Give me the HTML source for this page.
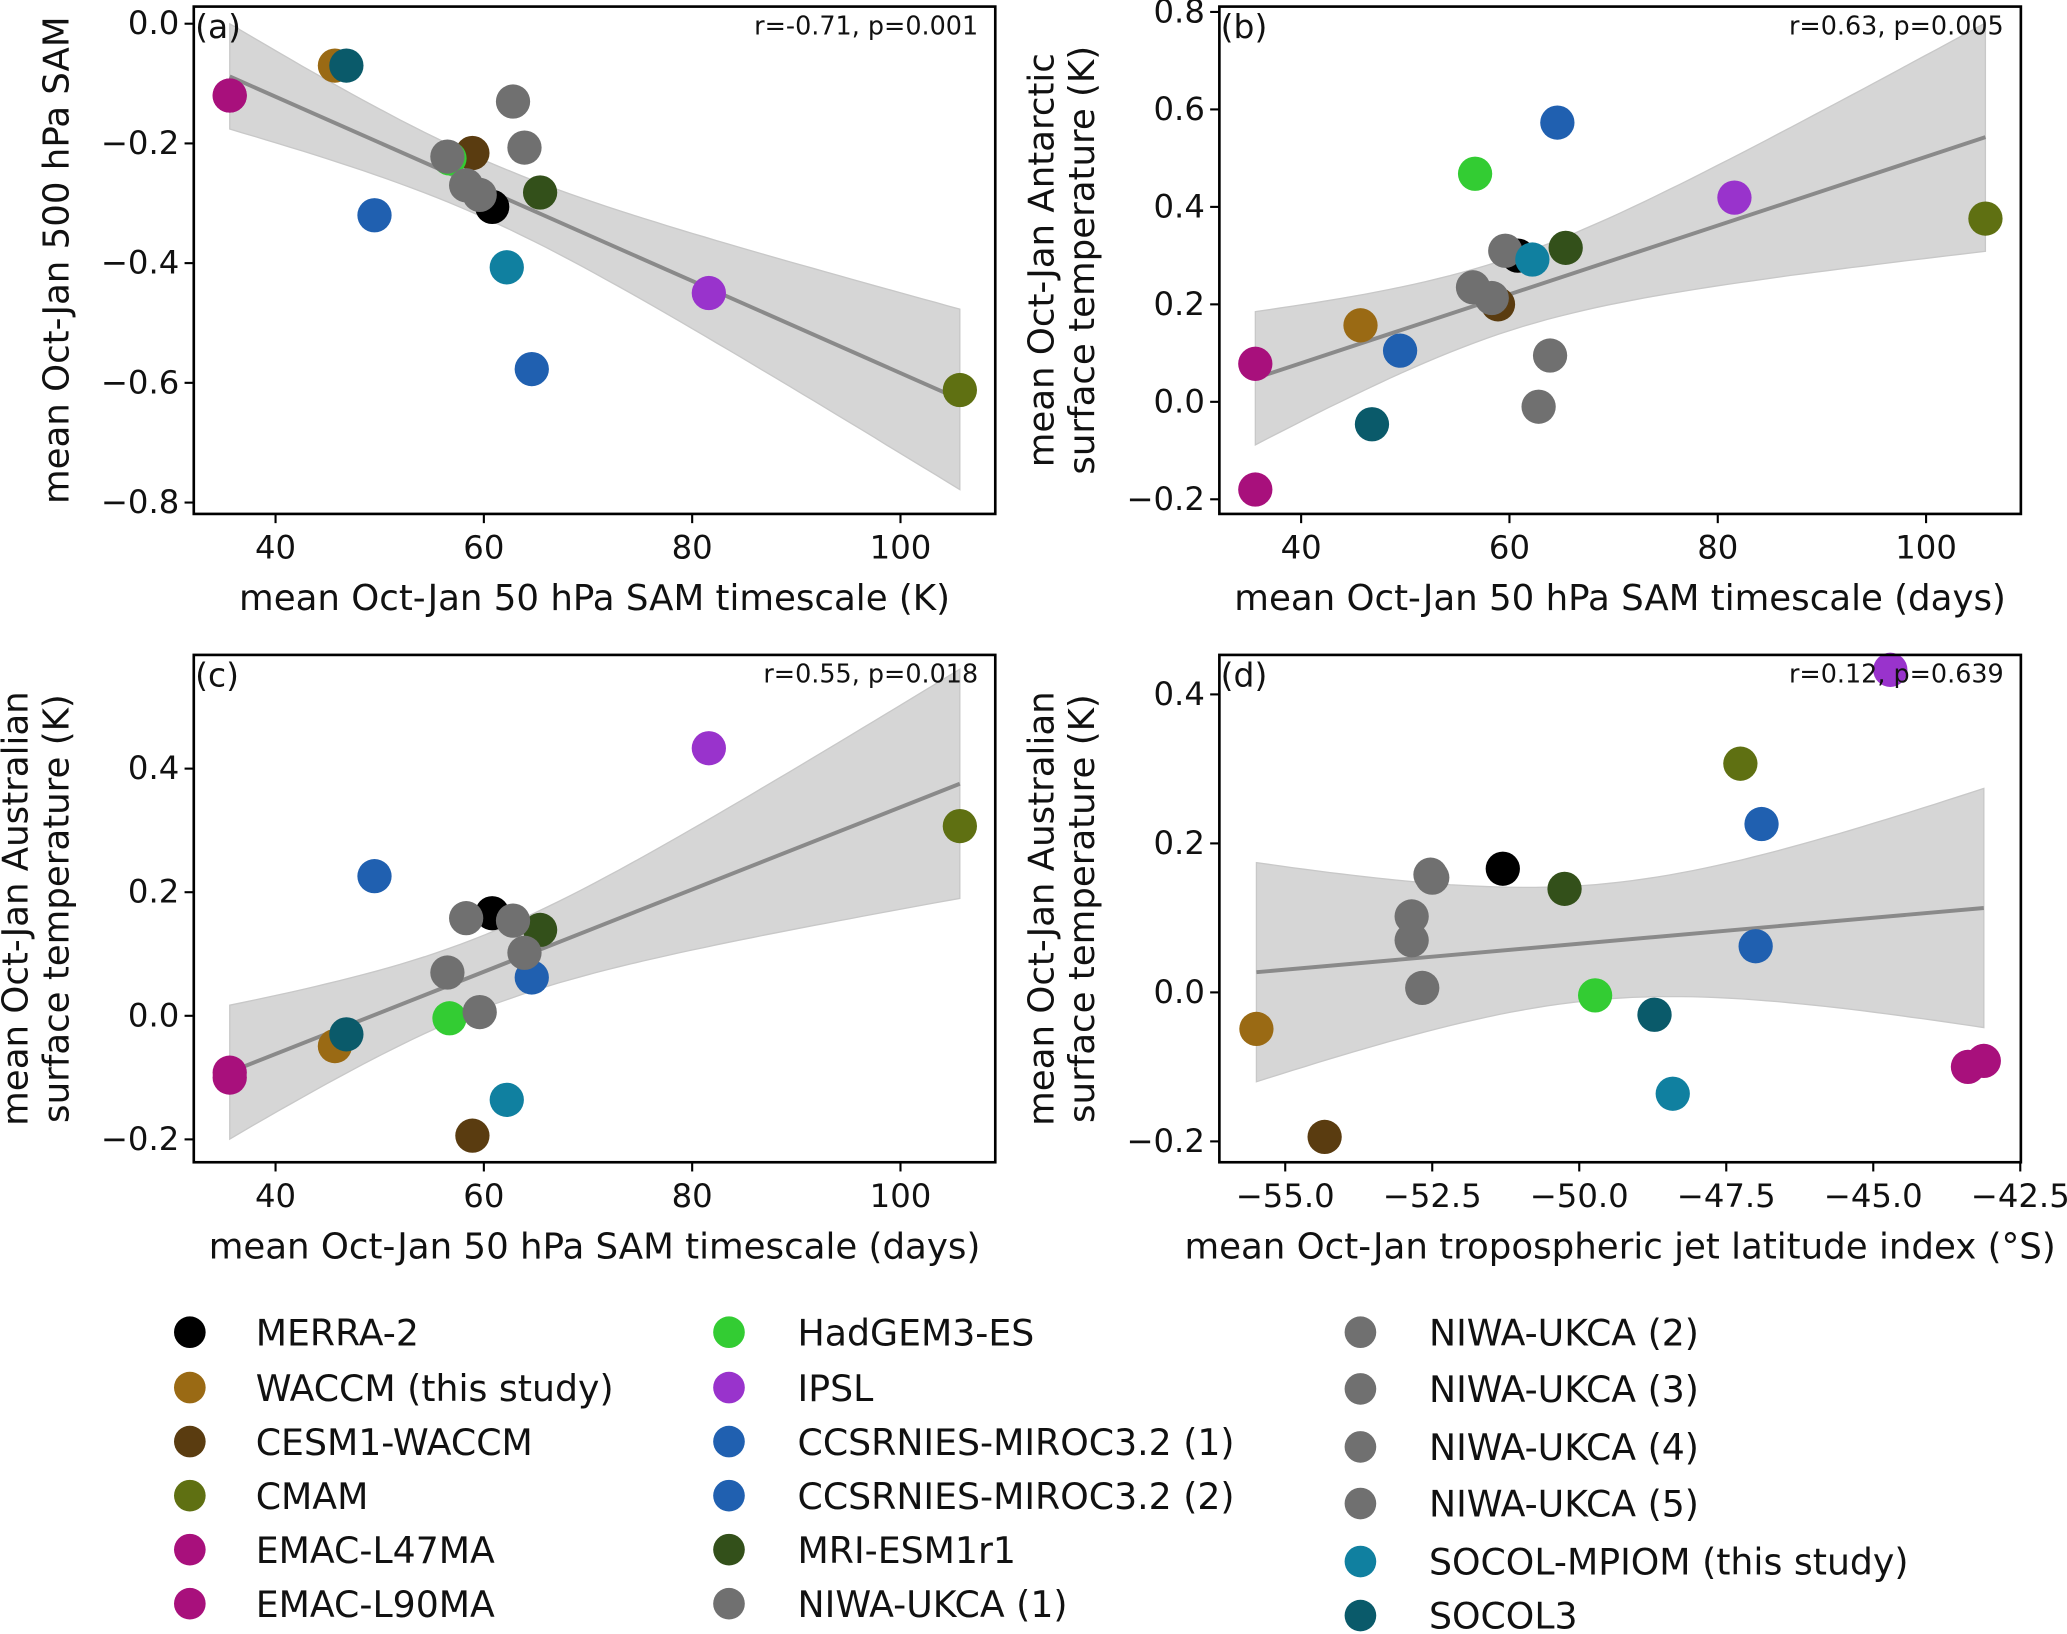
<!DOCTYPE html>
<html><head><meta charset="utf-8"><style>
html,body{margin:0;padding:0;background:#fff;}
svg{display:block;font-family:"DejaVu Sans","Liberation Sans",sans-serif;}
</style></head><body>
<svg id="fig" width="2067" height="1634" viewBox="0 0 1568 1240" preserveAspectRatio="none" xmlns="http://www.w3.org/2000/svg"></svg>
<script>
const models = ["MERRA-2","WACCM (this study)","CESM1-WACCM","CMAM","EMAC-L47MA","EMAC-L90MA","HadGEM3-ES","IPSL","CCSRNIES-MIROC3.2 (1)","CCSRNIES-MIROC3.2 (2)","MRI-ESM1r1","NIWA-UKCA (1)","NIWA-UKCA (2)","NIWA-UKCA (3)","NIWA-UKCA (4)","NIWA-UKCA (5)","SOCOL-MPIOM (this study)","SOCOL3"];
const colors = ["#000000","#9a6a14","#5a3c10","#5f7012","#a8107c","#a8107c","#33cc33","#9933cc","#2060b0","#2060b0","#33501a","#707070","#707070","#707070","#707070","#707070","#1080a0","#0a5a6a"];
const samTimescale = [60.8,45.7,58.9,105.7,35.6,35.6,56.7,81.6,49.5,64.6,65.4,56.5,58.3,59.6,62.8,63.9,62.2,46.8];
const sam500 = [-0.306,-0.07,-0.216,-0.612,-0.12,-0.12,-0.225,-0.45,-0.32,-0.577,-0.282,-0.222,-0.27,-0.286,-0.13,-0.207,-0.407,-0.07];
const antarcticT = [0.30,0.157,0.2,0.376,0.078,-0.18,0.468,0.419,0.105,0.573,0.316,0.235,0.213,0.31,-0.01,0.095,0.292,-0.046];
const australianT = [0.166,-0.049,-0.194,0.307,-0.092,-0.10,-0.004,0.433,0.226,0.062,0.139,0.07,0.158,0.006,0.154,0.102,-0.136,-0.03];
const jetLat = [-51.3,-55.49,-54.33,-47.26,-43.12,-43.39,-49.73,-44.71,-46.9,-47.0,-50.25,-52.85,-52.53,-52.67,-52.5,-52.85,-48.41,-48.72];
const xTicksSAM = [40,60,80,100];
const xTicksJet = [-55.0,-52.5,-50.0,-47.5,-45.0,-42.5];
const yTicksA = [0.0,-0.2,-0.4,-0.6,-0.8];
const yTicksB = [0.8,0.6,0.4,0.2,0.0,-0.2];
const yTicksC = [0.4,0.2,0.0,-0.2];
const stats = ["r=-0.71, p=0.001","r=0.63, p=0.005","r=0.55, p=0.018","r=0.12, p=0.639"];

const NS="http://www.w3.org/2000/svg";
const svg=document.getElementById('fig');
function mk(tag,attrs,parent){const e=document.createElementNS(NS,tag);for(const k in attrs)e.setAttribute(k,attrs[k]);(parent||svg).appendChild(e);return e;}
function fmt(v,d){const s=Math.abs(v).toFixed(d);return (v<0?"\u2212":"")+s;}

const panels=[
 {id:"a",box:[147,5,755,390],xd:[32.15,109.1],yd:[-0.819,0.0286],xs:samTimescale,ys:sam500,xt:xTicksSAM,xdig:0,yt:yTicksA,xl:"mean Oct-Jan 50 hPa SAM timescale (K)",yl:["mean Oct-Jan 500 hPa SAM"],st:stats[0]},
 {id:"b",box:[925,5,1533,390],xd:[32.15,109.1],yd:[-0.23,0.811],xs:samTimescale,ys:antarcticT,xt:xTicksSAM,xdig:0,yt:yTicksB,xl:"mean Oct-Jan 50 hPa SAM timescale (days)",yl:["mean Oct-Jan Antarctic","surface temperature (K)"],st:stats[1]},
 {id:"c",box:[147,497,755,882],xd:[32.15,109.1],yd:[-0.237,0.584],xs:samTimescale,ys:australianT,xt:xTicksSAM,xdig:0,yt:yTicksC,xl:"mean Oct-Jan 50 hPa SAM timescale (days)",yl:["mean Oct-Jan Australian","surface temperature (K)"],st:stats[2]},
 {id:"d",box:[925,497,1533,882],xd:[-56.12,-42.49],yd:[-0.228,0.453],xs:jetLat,ys:australianT,xt:xTicksJet,xdig:1,yt:yTicksC,xl:"mean Oct-Jan tropospheric jet latitude index (\u00b0S)",yl:["mean Oct-Jan Australian","surface temperature (K)"],st:stats[3]}
];

panels.forEach(p=>{
 const [x0,y0,x1,y1]=p.box;
 const sx=v=>x0+(v-p.xd[0])/(p.xd[1]-p.xd[0])*(x1-x0);
 const sy=v=>y1-(v-p.yd[0])/(p.yd[1]-p.yd[0])*(y1-y0);
 const g=mk('g',{});
 
 
 const n=p.xs.length;const mx=p.xs.reduce((a,b)=>a+b)/n, my=p.ys.reduce((a,b)=>a+b)/n;
 let sxx=0,sxy=0;for(let i=0;i<n;i++){sxx+=(p.xs[i]-mx)**2;sxy+=(p.xs[i]-mx)*(p.ys[i]-my);}
 const b=sxy/sxx,a=my-b*mx;let sse=0;for(let i=0;i<n;i++)sse+=(p.ys[i]-a-b*p.xs[i])**2;
 const s=Math.sqrt(sse/(n-2)),t=2.0;
 const xmin=Math.min(...p.xs),xmax=Math.max(...p.xs);
 let up=[],lo=[];
 for(let k=0;k<=60;k++){const x=xmin+(xmax-xmin)*k/60;const yh=a+b*x;const se=t*s*Math.sqrt(1/n+(x-mx)**2/sxx);
  up.push(sx(x).toFixed(1)+","+sy(yh+se).toFixed(1));lo.unshift(sx(x).toFixed(1)+","+sy(yh-se).toFixed(1));}
 const band=mk('polygon',{points:up.concat(lo).join(" "),fill:"#d6d6d6",stroke:"#c8c8c8","stroke-width":1},g);
 
 
 const ln=mk('line',{x1:sx(xmin),y1:sy(a+b*xmin),x2:sx(xmax),y2:sy(a+b*xmax),stroke:"#8a8a8a","stroke-width":3},g);
 
 
 for(let i=0;i<n;i++){
  const c=mk('circle',{cx:sx(p.xs[i]),cy:sy(p.ys[i]),r:13,fill:colors[i]},g);
  
  
 }
 const fr=mk('rect',{x:x0,y:y0,width:x1-x0,height:y1-y0,fill:"none",stroke:"#000","stroke-width":2},g);
 
 
 p.xt.forEach(v=>{const X=sx(v);mk('line',{x1:X,y1:y1,x2:X,y2:y1+7,stroke:"#000","stroke-width":1.6},g);
  const tx=mk('text',{x:X,y:y1+34,"font-size":24.5,"text-anchor":"middle",fill:"#111"},g);tx.textContent=fmt(v,p.xdig);
  
  });
 p.yt.forEach(v=>{const Y=sy(v);mk('line',{x1:x0-7,y1:Y,x2:x0,y2:Y,stroke:"#000","stroke-width":1.6},g);
  const tx=mk('text',{x:x0-11,y:Y+8,"font-size":24.5,"text-anchor":"end",fill:"#111"},g);tx.textContent=fmt(v,1);
  
  });
 const xl=mk('text',{x:(x0+x1)/2,y:y1+73,"font-size":27,"text-anchor":"middle",fill:"#111"},g);xl.textContent=p.xl;
 
 
 const cy=(y0+y1)/2;
 p.yl.forEach((tx,k)=>{const lx=(p.yl.length===1?x0-95:x0-126+k*31);
  const e=mk('text',{x:lx,y:cy,"font-size":27,"text-anchor":"middle",fill:"#111",transform:`rotate(-90 ${lx} ${cy})`},g);e.textContent=tx;
  
  });
 const pl=mk('text',{x:x0+1,y:y0+24,"font-size":25,fill:"#111"},g);pl.textContent="("+p.id+")";
 
 
 const st=mk('text',{x:x1-13,y:y0+21,"font-size":19.3,"text-anchor":"end",fill:"#111"},g);st.textContent=p.st;
 
 
});

const cols=[{dx:144,tx:194,ys:[1011,1053,1094,1135,1176,1217]},{dx:553,tx:605,ys:[1011,1053,1094,1135,1176,1217]},{dx:1032,tx:1084,ys:[1011,1054,1098,1141,1185,1226]}];
models.forEach((m,i)=>{const c=cols[Math.floor(i/6)],y=c.ys[i%6];
 const g=mk('g',{});
 
 
 mk('circle',{cx:c.dx,cy:y,r:12,fill:colors[i]},g);
 const t=mk('text',{x:c.tx,y:y+10,"font-size":27.5,fill:"#111"},g);t.textContent=m;
});
</script>
</body></html>
